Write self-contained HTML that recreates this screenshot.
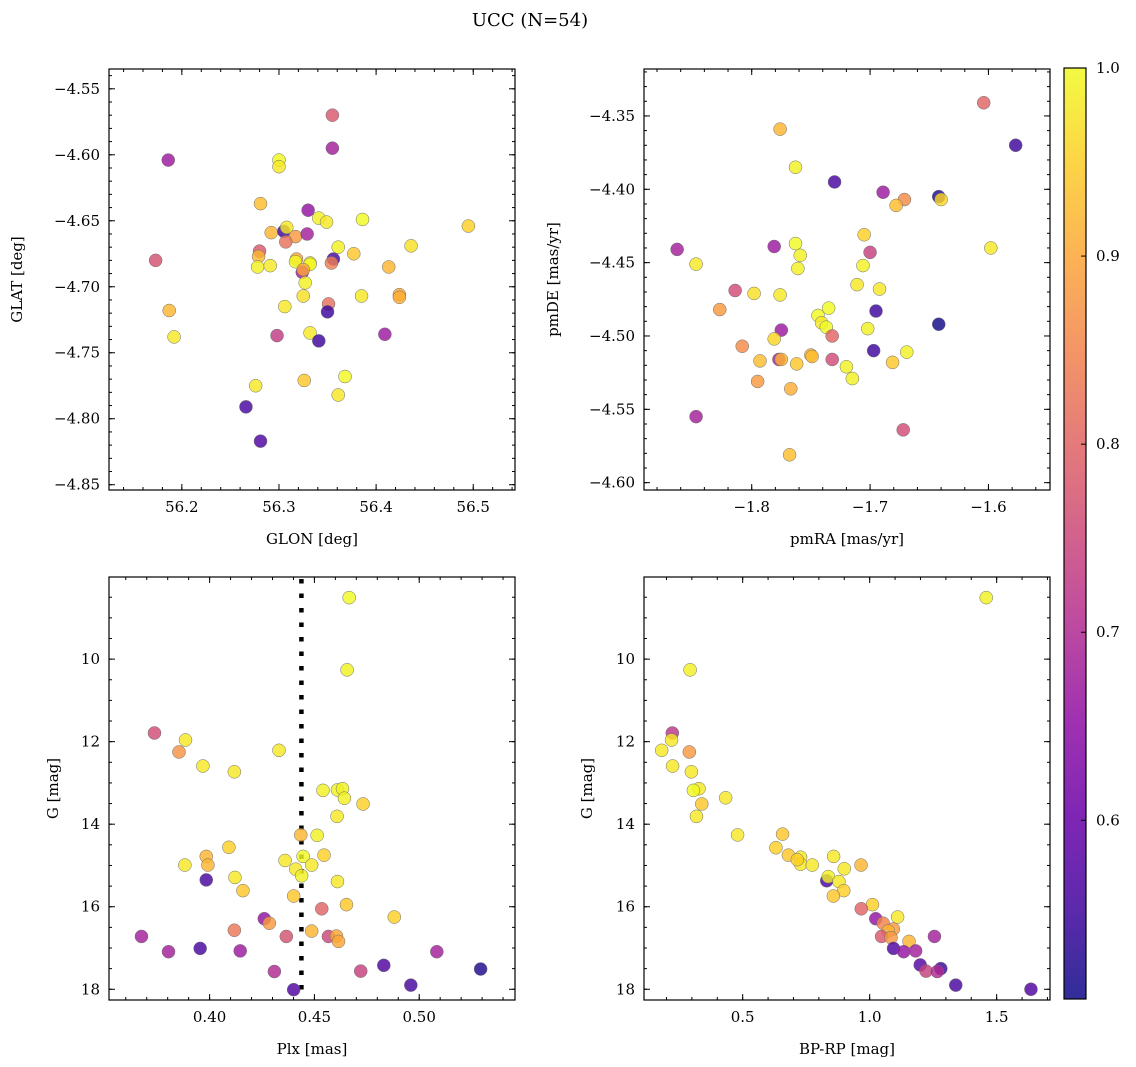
<!DOCTYPE html>
<html><head><meta charset="utf-8">
<style>
html,body{margin:0;padding:0;background:#fff;}
svg{display:block;font-family:"DejaVu Serif","Liberation Serif",serif;}
</style></head>
<body>
<svg id="fig" width="1136" height="1067" viewBox="0 0 1136 1067" xmlns="http://www.w3.org/2000/svg">
<text x="530" y="26" text-anchor="middle" font-size="18">UCC (N=54)</text>
</svg>
<script>
// ---- Panel 1: GLON vs GLAT ----
const p1Glon = [56.355,56.355,56.186,56.300,56.300,56.281,56.330,56.341,56.349,56.386,56.495,56.292,56.305,56.308,56.317,56.329,56.307,56.361,56.377,56.436,56.280,56.279,56.173,56.278,56.291,56.318,56.317,56.332,56.332,56.356,56.354,56.324,56.325,56.327,56.413,56.325,56.385,56.424,56.424,56.187,56.351,56.350,56.306,56.192,56.298,56.332,56.341,56.409,56.276,56.326,56.368,56.361,56.266,56.281];
const p1Glat = [-4.570,-4.595,-4.604,-4.604,-4.609,-4.637,-4.642,-4.648,-4.651,-4.649,-4.654,-4.659,-4.658,-4.655,-4.662,-4.660,-4.666,-4.670,-4.675,-4.669,-4.673,-4.677,-4.680,-4.685,-4.684,-4.679,-4.681,-4.682,-4.683,-4.679,-4.682,-4.689,-4.687,-4.697,-4.685,-4.707,-4.707,-4.706,-4.708,-4.718,-4.713,-4.719,-4.715,-4.738,-4.737,-4.735,-4.741,-4.736,-4.775,-4.771,-4.768,-4.782,-4.791,-4.817];
const p1Prob = [0.78,0.68,0.67,1.0,0.98,0.93,0.66,0.99,0.98,1.0,0.95,0.92,0.55,0.98,0.88,0.68,0.82,0.99,0.94,0.97,0.78,0.92,0.77,0.99,0.98,0.9,1.0,0.98,1.0,0.56,0.84,0.67,0.9,0.99,0.92,0.97,0.98,0.9,0.91,0.92,0.82,0.55,0.98,0.98,0.73,0.98,0.55,0.67,0.98,0.94,1.0,0.98,0.56,0.57];
// ---- Panel 2: pmRA vs pmDE ----
const p2PmRA = [-1.604,-1.577,-1.776,-1.763,-1.730,-1.689,-1.671,-1.678,-1.642,-1.640,-1.705,-1.700,-1.598,-1.863,-1.847,-1.781,-1.763,-1.759,-1.761,-1.706,-1.711,-1.692,-1.814,-1.798,-1.776,-1.827,-1.735,-1.695,-1.642,-1.744,-1.741,-1.737,-1.702,-1.775,-1.781,-1.732,-1.808,-1.697,-1.669,-1.777,-1.775,-1.793,-1.762,-1.750,-1.749,-1.732,-1.720,-1.715,-1.681,-1.795,-1.767,-1.847,-1.672,-1.768];
const p2PmDE = [-4.341,-4.370,-4.359,-4.385,-4.395,-4.402,-4.407,-4.411,-4.405,-4.407,-4.431,-4.443,-4.440,-4.441,-4.451,-4.439,-4.437,-4.445,-4.454,-4.452,-4.465,-4.468,-4.469,-4.471,-4.472,-4.482,-4.481,-4.483,-4.492,-4.486,-4.491,-4.494,-4.495,-4.496,-4.502,-4.500,-4.507,-4.510,-4.511,-4.516,-4.516,-4.517,-4.519,-4.513,-4.514,-4.516,-4.521,-4.529,-4.518,-4.531,-4.536,-4.555,-4.564,-4.581];
const p2Prob = [0.8,0.55,0.92,0.99,0.56,0.67,0.86,0.93,0.52,0.96,0.95,0.74,0.98,0.68,0.98,0.67,1.0,0.99,0.99,0.99,0.98,0.98,0.76,0.97,0.98,0.88,1.0,0.55,0.51,1.0,0.98,1.0,0.99,0.67,0.96,0.8,0.86,0.55,0.99,0.68,0.92,0.93,0.94,0.91,0.93,0.76,0.99,0.99,0.94,0.88,0.91,0.68,0.76,0.93];
// ---- Panel 3: Plx vs G ----
const p3Plx = [0.4666,0.4656,0.3737,0.3885,0.3854,0.4331,0.3968,0.4118,0.4541,0.4610,0.4634,0.4643,0.4732,0.4608,0.4435,0.4513,0.4092,0.3984,0.3992,0.3882,0.4360,0.4446,0.4487,0.4546,0.4411,0.4439,0.3984,0.4121,0.4159,0.4610,0.4401,0.4653,0.4535,0.4881,0.4261,0.4285,0.4118,0.4487,0.3675,0.4366,0.4567,0.4605,0.4615,0.3804,0.3955,0.4146,0.5084,0.4309,0.4721,0.4831,0.5293,0.4960,0.4401];
const p3G = [8.51,10.26,11.79,11.96,12.25,12.21,12.59,12.73,13.18,13.17,13.14,13.37,13.51,13.81,14.26,14.27,14.56,14.78,14.99,14.99,14.88,14.78,14.99,14.75,15.09,15.25,15.35,15.29,15.61,15.39,15.74,15.95,16.05,16.25,16.29,16.40,16.57,16.59,16.72,16.72,16.72,16.71,16.84,17.09,17.01,17.07,17.09,17.57,17.56,17.42,17.51,17.90,18.01];
const p3Prob = [1.0,0.99,0.76,0.98,0.87,0.98,0.98,0.98,0.99,0.99,0.99,0.99,0.95,0.98,0.92,0.99,0.95,0.92,0.92,0.98,0.98,1.0,0.98,0.95,0.98,0.99,0.56,0.98,0.94,0.98,0.94,0.94,0.8,0.95,0.66,0.88,0.83,0.92,0.68,0.77,0.75,0.9,0.9,0.68,0.56,0.67,0.68,0.7,0.74,0.57,0.52,0.56,0.57];
const plxLine = 0.4438;
// ---- Panel 4: BP-RP vs G ----
const p4BpRp = [1.459,0.293,0.223,0.220,0.181,0.290,0.224,0.298,0.328,0.306,0.339,0.433,0.318,0.480,0.657,0.631,0.680,0.728,0.728,0.774,0.715,0.858,0.900,0.966,0.831,0.837,0.879,0.898,0.857,1.011,0.967,1.110,1.024,1.053,1.093,1.073,1.047,1.084,1.155,1.255,1.094,1.134,1.181,1.199,1.280,1.222,1.266,1.339,1.635];
const p4G = [8.51,10.26,11.79,11.96,12.21,12.25,12.59,12.73,13.14,13.18,13.51,13.36,13.81,14.26,14.24,14.57,14.75,14.80,14.97,14.99,14.86,14.78,15.08,14.99,15.37,15.27,15.39,15.61,15.74,15.95,16.05,16.25,16.29,16.40,16.54,16.59,16.72,16.75,16.84,16.72,17.01,17.09,17.07,17.41,17.50,17.56,17.57,17.90,18.00];
const p4Prob = [0.99,0.99,0.72,0.98,0.98,0.88,0.98,0.98,0.98,1.0,0.94,0.98,0.98,0.98,0.94,0.95,0.94,0.98,0.98,0.98,0.95,0.98,0.98,0.92,0.56,0.99,0.98,0.95,0.94,0.95,0.8,0.98,0.66,0.85,0.88,0.92,0.78,0.88,0.92,0.68,0.57,0.66,0.68,0.58,0.55,0.74,0.7,0.56,0.57];
// ---- Tick labels ----
const p1XTicks = [56.2,56.3,56.4,56.5];
const p1YTicks = [-4.55,-4.60,-4.65,-4.70,-4.75,-4.80,-4.85];
const p2XTicks = [-1.8,-1.7,-1.6];
const p2YTicks = [-4.35,-4.40,-4.45,-4.50,-4.55,-4.60];
const p3XTicks = [0.40,0.45,0.50];
const gTicks = [10,12,14,16,18];
const p4XTicks = [0.5,1.0,1.5];
const cbTicks = [0.6,0.7,0.8,0.9,1.0];
const vmin = 0.505, vmax = 1.0;

const NS = "http://www.w3.org/2000/svg";
const svg = document.getElementById('fig');
function mk(tag, attrs, parent){const e=document.createElementNS(NS,tag);for(const k in attrs)e.setAttribute(k,attrs[k]);(parent||svg).appendChild(e);return e;}
const stops=[[13,8,135],[65,4,157],[106,0,168],[143,13,164],[177,42,144],[204,71,120],[225,100,98],[242,132,75],[252,166,54],[252,206,37],[240,249,33]];
function plasma(t){t=Math.max(0,Math.min(1,t));const f=t*10;const i=Math.min(9,Math.floor(f));const u=f-i;const a=stops[i],b=stops[i+1];return `rgb(${Math.round(a[0]+(b[0]-a[0])*u)},${Math.round(a[1]+(b[1]-a[1])*u)},${Math.round(a[2]+(b[2]-a[2])*u)})`;}
function fmt(v,d){return (v<0?'\u2212':'')+Math.abs(v).toFixed(d);}

function panel(cfg){
  const g=mk('g',{});
  
  
  const {L,R,T,B,xmin,xmax,ymin,ymax,invert}=cfg;
  const sx=v=>L+(v-xmin)/(xmax-xmin)*(R-L);
  const sy=v=>invert? T+(v-ymin)/(ymax-ymin)*(B-T) : B-(v-ymin)/(ymax-ymin)*(B-T);
  // minor ticks
  const eps=1e-9;
  for(let v=Math.ceil(xmin/cfg.xminor-eps)*cfg.xminor; v<=xmax+eps; v+=cfg.xminor){const x=sx(v);
    mk('line',{x1:x,x2:x,y1:B,y2:B-3,stroke:'#000','stroke-width':1},g);mk('line',{x1:x,x2:x,y1:T,y2:T+3,stroke:'#000','stroke-width':1},g);}
  for(let v=Math.ceil(ymin/cfg.yminor-eps)*cfg.yminor; v<=ymax+eps; v+=cfg.yminor){const y=sy(v);
    mk('line',{x1:L,x2:L+3,y1:y,y2:y,stroke:'#000','stroke-width':1},g);mk('line',{x1:R,x2:R-3,y1:y,y2:y,stroke:'#000','stroke-width':1},g);}
  cfg.xt.forEach(v=>{const x=sx(v);
    mk('line',{x1:x,x2:x,y1:B,y2:B-6,stroke:'#000','stroke-width':1},g);mk('line',{x1:x,x2:x,y1:T,y2:T+6,stroke:'#000','stroke-width':1},g);
    const t=mk('text',{x:x,y:B+22,'text-anchor':'middle','font-size':15},g);t.textContent=fmt(v,cfg.xd);
    
    });
  cfg.yt.forEach(v=>{const y=sy(v);
    mk('line',{x1:L,x2:L+6,y1:y,y2:y,stroke:'#000','stroke-width':1},g);mk('line',{x1:R,x2:R-6,y1:y,y2:y,stroke:'#000','stroke-width':1},g);
    const t=mk('text',{x:L-9,y:y+5,'text-anchor':'end','font-size':15},g);t.textContent=fmt(v,cfg.yd);
    
    });
  const xt=mk('text',{x:(L+R)/2,y:B+54,'text-anchor':'middle','font-size':15},g);xt.textContent=cfg.xlabel;
  
  
  const yx=cfg.ylx, yy=(T+B)/2;
  const yt=mk('text',{x:yx,y:yy,'text-anchor':'middle','font-size':15,transform:`rotate(-90 ${yx} ${yy})`},g);yt.textContent=cfg.ylabel;
  
  
  const clip='c'+cfg.name;
  const cp=mk('clipPath',{id:clip},g);mk('rect',{x:L,y:T,width:R-L,height:B-T},cp);
  const pg=mk('g',{'clip-path':`url(#${clip})`},g);
  if(cfg.vline!==undefined){const x=sx(cfg.vline);const ln=mk('line',{x1:x,x2:x,y1:T+2,y2:B,stroke:'#000','stroke-width':4.5,'stroke-dasharray':'4.5 10'},pg);
    
    }
  const xs=cfg.xs, ys=cfg.ys, ps=cfg.ps;
  for(let i=0;i<xs.length;i++){
    const c=mk('circle',{cx:sx(xs[i]),cy:sy(ys[i]),r:6.5,fill:plasma((ps[i]-vmin)/(vmax-vmin)),'fill-opacity':0.82,stroke:'#6e6e6e','stroke-width':0.5},pg);
    
    
  }
  mk('rect',{x:L,y:T,width:R-L,height:B-T,fill:'none',stroke:'#000','stroke-width':1.2},g);
}

panel({name:'panel-glon-glat',L:109,R:515,T:69,B:490,xmin:56.125,xmax:56.543,ymin:-4.854,ymax:-4.535,invert:false,
  xt:p1XTicks,yt:p1YTicks,xd:1,yd:2,xminor:0.02,yminor:0.01,xlabel:'GLON [deg]',ylabel:'GLAT [deg]',ylx:22,xs:p1Glon,ys:p1Glat,ps:p1Prob});
panel({name:'panel-pm',L:644,R:1050,T:69,B:490,xmin:-1.891,xmax:-1.548,ymin:-4.605,ymax:-4.318,invert:false,
  xt:p2XTicks,yt:p2YTicks,xd:1,yd:2,xminor:0.02,yminor:0.01,xlabel:'pmRA [mas/yr]',ylabel:'pmDE [mas/yr]',ylx:558,xs:p2PmRA,ys:p2PmDE,ps:p2Prob});
panel({name:'panel-plx-g',L:109,R:515,T:577,B:1000,xmin:0.352,xmax:0.5457,ymin:8.01,ymax:18.26,invert:true,
  xt:p3XTicks,yt:gTicks,xd:2,yd:0,xminor:0.01,yminor:0.5,xlabel:'Plx [mas]',ylabel:'G [mag]',ylx:58,xs:p3Plx,ys:p3G,ps:p3Prob,vline:plxLine});
panel({name:'panel-cmd',L:644,R:1050,T:577,B:1000,xmin:0.1115,xmax:1.710,ymin:8.01,ymax:18.26,invert:true,
  xt:p4XTicks,yt:gTicks,xd:1,yd:0,xminor:0.1,yminor:0.5,xlabel:'BP-RP [mag]',ylabel:'G [mag]',ylx:592,xs:p4BpRp,ys:p4G,ps:p4Prob});

// colorbar
const cb=mk('g',{});


const defs=mk('defs',{},cb);
const lg=mk('linearGradient',{id:'plasmaGrad',x1:0,y1:1,x2:0,y2:0},defs);
for(let i=0;i<=20;i++){mk('stop',{offset:(i/20),'stop-color':plasma(i/20)},lg);}
const cbL=1064,cbR=1086,cbT=68,cbB=999;
mk('rect',{x:cbL,y:cbT,width:cbR-cbL,height:cbB-cbT,fill:'url(#plasmaGrad)','fill-opacity':0.85},cb);
mk('rect',{x:cbL,y:cbT,width:cbR-cbL,height:cbB-cbT,fill:'none',stroke:'#000','stroke-width':1.2},cb);
cbTicks.forEach(v=>{const y=cbB-(v-vmin)/(vmax-vmin)*(cbB-cbT);
  mk('line',{x1:cbR,x2:cbR-5,y1:y,y2:y,stroke:'#000','stroke-width':1},cb);
  const t=mk('text',{x:cbR+10,y:y+5,'font-size':15},cb);t.textContent=v.toFixed(1);
  
  });
</script>
</body></html>
